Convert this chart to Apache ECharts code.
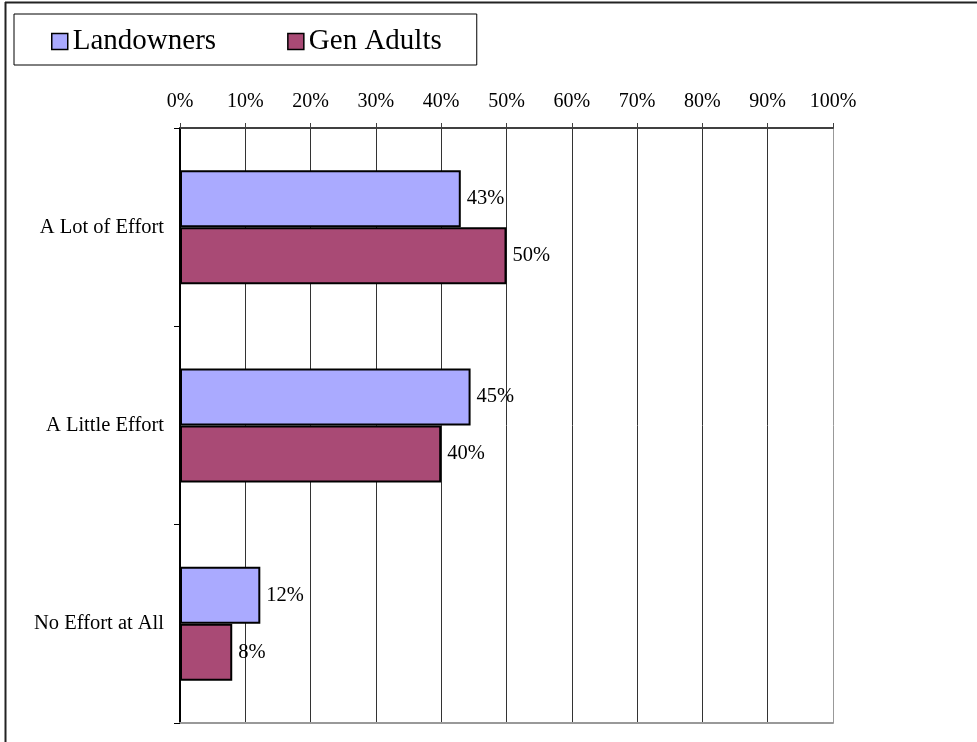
<!DOCTYPE html>
<html>
<head>
<meta charset="utf-8">
<script src="https://cdn.jsdelivr.net/npm/echarts@6/dist/echarts.min.js"></script>
<style>html,body{margin:0;padding:0;background:#fff}#c{width:977px;height:742px}</style>
</head>
<body>
<div id="c"></div>
<script>
const categories = ["A Lot of Effort", "A Little Effort", "No Effort at All"];
const seriesNames = ["Landowners", "Gen Adults"];
const landowners = [43, 44.5, 12.3];
const genAdults = [50, 40, 8];
const tickValues = [0, 10, 20, 30, 40, 50, 60, 70, 80, 90, 100];

const FONT = "'Liberation Serif', 'Times New Roman', serif";
const chart = echarts.init(document.getElementById('c'), null, {renderer: 'canvas'});
const gridColors = tickValues.map((v, i) => i === tickValues.length - 1 ? '#999' : '#333');

chart.setOption({
  animation: false,
  backgroundColor: '#fff',
  textStyle: {fontFamily: FONT},
  graphic: [
    {type: 'line', shape: {x1: 5, y1: 2.5, x2: 977, y2: 2.5}, style: {stroke: '#222', lineWidth: 2}},
    {type: 'line', shape: {x1: 5.5, y1: 2, x2: 5.5, y2: 742}, style: {stroke: '#222', lineWidth: 2}}
  ],
  legend: {
    left: 14, top: 14,
    data: seriesNames,
    icon: 'rect',
    itemWidth: 16, itemHeight: 16,
    itemGap: 71,
    padding: [13, 35, 9, 37],
    borderColor: '#000', borderWidth: 1,
    textStyle: {fontFamily: FONT, fontSize: 29, color: '#000', padding: [0, 0, 0, 0]},
    itemStyle: {borderColor: '#000', borderWidth: 1.5}
  },
  grid: {left: 180, right: 144, top: 128, bottom: 19, containLabel: false},
  xAxis: [{
    type: 'value', position: 'top', min: 0, max: 100, interval: 10,
    axisLine: {show: true, lineStyle: {color: '#404040', width: 2}},
    axisTick: {show: true, length: 5, lineStyle: {color: '#404040', width: 1}},
    axisLabel: {formatter: '{value}%', fontFamily: FONT, fontSize: 20, color: '#000', margin: 16},
    splitLine: {show: true, lineStyle: {color: gridColors, width: 1}}
  }, {
    type: 'value', position: 'bottom', min: 0, max: 100, interval: 10,
    axisLine: {show: true, lineStyle: {color: '#999', width: 2}},
    axisTick: {show: false}, axisLabel: {show: false}, splitLine: {show: false}
  }],
  yAxis: {
    type: 'category', data: categories, inverse: true,
    axisLine: {show: true, lineStyle: {color: '#000', width: 2}},
    axisTick: {show: true, length: 6, lineStyle: {color: '#000', width: 1}},
    axisLabel: {fontFamily: FONT, fontSize: 20.5, color: '#000', margin: 16}
  },
  series: [
    {
      name: seriesNames[0], type: 'bar', data: landowners, barWidth: 57, barGap: '0%',
      itemStyle: {color: '#AAAAFF', borderColor: '#000', borderWidth: 2},
      label: {show: true, position: 'right', distance: 6, fontFamily: FONT, fontSize: 20.5, color: '#000',
        formatter: p => Math.round(p.value) + '%'}
    },
    {
      name: seriesNames[1], type: 'bar', data: genAdults, barWidth: 57, barGap: '0%',
      itemStyle: {color: '#A94A75', borderColor: '#000', borderWidth: 2},
      label: {show: true, position: 'right', distance: 6, fontFamily: FONT, fontSize: 20.5, color: '#000',
        formatter: p => Math.round(p.value) + '%'}
    }
  ]
});
</script>
</body>
</html>
